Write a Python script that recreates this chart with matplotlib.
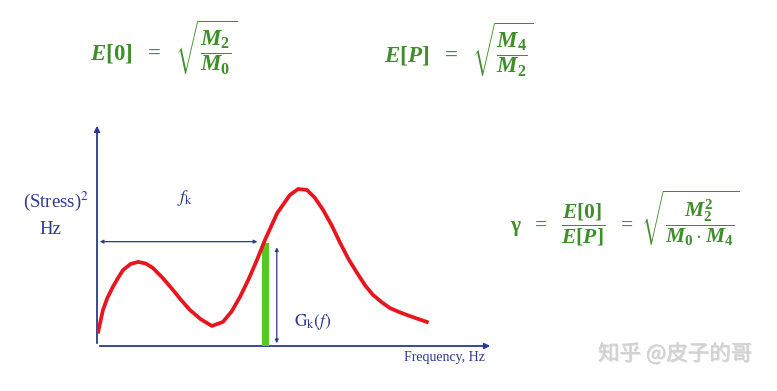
import matplotlib.pyplot as plt
import matplotlib.patheffects as pe

plt.rcParams['mathtext.fontset'] = 'custom'
plt.rcParams['mathtext.rm'] = 'Liberation Serif:bold'
plt.rcParams['mathtext.it'] = 'Liberation Serif:bold:italic'
plt.rcParams['mathtext.bf'] = 'Liberation Serif:bold'

# PSD curve (frequency, response) in arbitrary units
freq = [0.3, 1.5, 2.6, 4.0, 5.3, 6.6, 8.5, 10.4, 12.3, 14.1, 16.6, 19.2, 21.3,
        23.5, 26.2, 29.0, 31.8, 34.0, 36.1, 38.3, 40.4, 42.4, 45.5, 48.7, 50.8,
        53.0, 55.0, 57.1, 59.3, 61.4, 63.5, 65.7, 67.7, 69.7, 72.0, 74.0, 76.2,
        78.3, 80.8, 83.3]
psd = [6.4, 16.1, 21.5, 26.5, 30.5, 34.1, 36.8, 37.7, 37.0, 35.0, 30.5, 25.1, 20.5,
       16.1, 12.0, 9.0, 10.8, 15.5, 22.0, 30.0, 38.6, 47.5, 59.6, 67.7, 70.4,
       70.0, 66.5, 61.0, 54.0, 46.2, 39.0, 32.7, 27.2, 22.9, 19.5, 17.0, 15.3,
       13.9, 12.3, 10.8]
fk = 42.5
gk = 46.2

navy = '#2b3990'
green = '#3e8e2a'

W, H = 777, 391
fig = plt.figure(figsize=(W / 100, H / 100), dpi=100)

def px(x, y):
    return x / W, 1 - y / H

x0, y0, x1, y1 = 97, 346, 493, 123
ax = fig.add_axes([x0 / W, 1 - y0 / H, (x1 - x0) / W, (y0 - y1) / H])
ax.set_xlim(0, 100)
ax.set_ylim(0, 100)
ax.axis('off')

# axes with arrow heads
ax.annotate('', xy=(100, 0), xytext=(0, 0),
            arrowprops=dict(arrowstyle='-|>', color=navy, lw=1.3, mutation_scale=8),
            annotation_clip=False)
ax.annotate('', xy=(0, 100), xytext=(0, 0),
            arrowprops=dict(arrowstyle='-|>', color=navy, lw=1.3, mutation_scale=8),
            annotation_clip=False)

ax.bar([fk], [gk], width=1.8, color='#55c820', zorder=3)
ax.plot(freq, psd, color='#e8141e', lw=2.7, zorder=4)

# f_k and G_k(f) dimension arrows
ax.annotate('', xy=(41.2, 46.8), xytext=(0, 46.8),
            arrowprops=dict(arrowstyle='<|-|>', color=navy, lw=0.9, mutation_scale=5))
ax.annotate('', xy=(45.4, 45.5), xytext=(45.4, 0),
            arrowprops=dict(arrowstyle='<|-|>', color=navy, lw=0.9, mutation_scale=5))

ax.text(22.2, 66.4, r'$f_\mathrm{k}$', color=navy, fontsize=13,
        ha='center', va='center', math_fontfamily='stix')
ax.text(54.5, 10.8, r'$\mathrm{G}_\mathrm{k}(f)$', color=navy, fontsize=12.5,
        ha='center', va='center', math_fontfamily='stix')

fig.text(*px(444, 358), 'Frequency, Hz', color=navy, fontsize=10,
         family='Liberation Serif', ha='center', va='center')
fig.text(*px(56, 201), r'(Stress)$^2$', color=navy, fontsize=13.5,
         family='Liberation Serif', ha='center', va='center', math_fontfamily='stix')
fig.text(*px(50, 230), 'Hz', color=navy, fontsize=13.5,
         family='Liberation Serif', ha='center', va='center')

# green formulas
fig.text(*px(90, 48), r'$E[0]\ \ \mathbf{=}\ \ \sqrt{\dfrac{M_2}{M_0}}$', color=green,
         fontsize=16.5, ha='left', va='center')
fig.text(*px(384, 50), r'$E[P]\ \ \mathbf{=}\ \ \sqrt{\dfrac{M_4}{M_2}}$', color=green,
         fontsize=16.5, ha='left', va='center')
fig.text(*px(510, 218),
         r'$\mathrm{\gamma}\ \ \mathbf{=}\ \ \dfrac{E[0]}{E[P]}\ \ \mathbf{=}\ \sqrt{\dfrac{M_2^2}{M_0\cdot M_4}}$',
         color=green, fontsize=15.5, ha='left', va='center')

# watermark
fig.text(*px(675, 354), '知乎 @皮子的哥', color='#d2d2d2', fontsize=15.5,
         family=['Noto Sans CJK SC', 'DejaVu Sans'], ha='center', va='center',
         path_effects=[pe.withSimplePatchShadow(offset=(0.7, -0.7), shadow_rgbFace='#a0a0a0', alpha=0.35),
                       pe.Normal()])

fig.savefig('out.png', dpi=100)
